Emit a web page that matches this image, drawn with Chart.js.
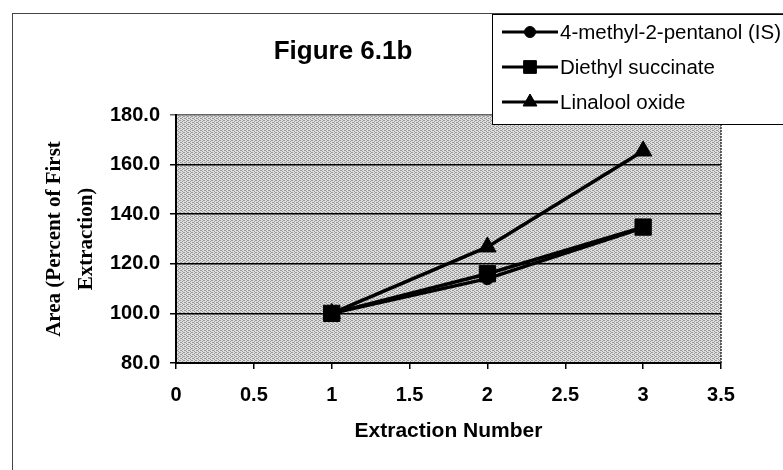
<!DOCTYPE html>
<html>
<head>
<meta charset="utf-8">
<title>Figure 6.1b</title>
<script src="https://cdn.jsdelivr.net/npm/chart.js@4.4.1/dist/chart.umd.min.js"></script>
<style>
  html, body { margin: 0; padding: 0; background: #fff; }
  canvas { display: block; }
</style>
</head>
<body>
<canvas id="extractionChart" width="783" height="470"></canvas>
<script>
// extraction number on x, peak area as % of the first extraction on y
const extractionNumbers = [1, 2, 3];
const methylPentanol = [100.0, 114.0, 134.5];
const diethylSuccinate = [100.0, 116.0, 134.8];
const linaloolOxide = [100.0, 126.8, 165.5];
const seriesNames = ['4-methyl-2-pentanol (IS)', 'Diethyl succinate', 'Linalool oxide'];
const yTickRange = [80, 180, 20];
const xTickRange = [0, 3.5, 0.5];

const toPoints = ys => extractionNumbers.map((x, i) => ({ x: x, y: ys[i] }));

// small dithered tile so the plot area looks like the printed grey fill
function halftoneTile() {
  const c = document.createElement('canvas');
  c.width = 4; c.height = 4;
  const g = c.getContext('2d');
  g.fillStyle = '#dedede';
  g.fillRect(0, 0, 4, 4);
  g.fillStyle = '#999';
  [[0, 0], [2, 1], [0, 2], [2, 3], [3, 0], [1, 2]].forEach(([x, y]) => g.fillRect(x, y, 1, 1));
  return c;
}

const legendMarks = { circle: 5.5, rect: 9, triangle: 8 };

const sheetDecor = {
  id: 'sheetDecor',
  beforeDraw(chart) {
    const { ctx, chartArea: a } = chart;
    ctx.save();
    ctx.fillStyle = '#fff';
    ctx.fillRect(0, 0, chart.width, chart.height);
    ctx.strokeStyle = '#444';
    ctx.lineWidth = 1;
    ctx.strokeRect(12.5, 13.5, chart.width, chart.height);
    ctx.fillStyle = ctx.createPattern(halftoneTile(), 'repeat');
    ctx.fillRect(a.left, a.top, a.right - a.left, a.bottom - a.top);
    // dotted right edge of the plot area
    ctx.strokeStyle = '#333';
    ctx.lineWidth = 1.5;
    ctx.setLineDash([2, 1]);
    ctx.beginPath();
    ctx.moveTo(a.right, a.top);
    ctx.lineTo(a.right, a.bottom);
    ctx.stroke();
    ctx.restore();
  },
  afterDraw(chart) {
    const ctx = chart.ctx;
    ctx.save();
    ctx.fillStyle = '#000';
    ctx.font = 'bold 26px "Liberation Sans"';
    ctx.textAlign = 'center';
    ctx.textBaseline = 'middle';
    ctx.fillText('Figure 6.1b', 343, 52);

    // legend box, runs off the right edge
    ctx.fillStyle = '#fff';
    ctx.fillRect(492.5, 14.5, 320, 110);
    ctx.strokeStyle = '#000';
    ctx.lineWidth = 1;
    ctx.strokeRect(492.5, 14.5, 320, 110);
    ctx.font = '20.5px "Liberation Sans"';
    ctx.textAlign = 'left';
    chart.data.datasets.forEach((ds, i) => {
      const y = 32 + i * 35;
      ctx.strokeStyle = '#000';
      ctx.lineWidth = 3;
      ctx.beginPath();
      ctx.moveTo(502, y);
      ctx.lineTo(558, y);
      ctx.stroke();
      ctx.fillStyle = '#000';
      ctx.lineWidth = 1;
      Chart.helpers.drawPoint(ctx, {
        pointStyle: ds.pointStyle,
        radius: legendMarks[ds.pointStyle],
        rotation: 0,
        borderWidth: 1
      }, 530, y);
      ctx.fillText(ds.label, 560, y + 1);
    });
    ctx.restore();
  }
};

const lineStyle = {
  borderColor: '#000',
  backgroundColor: '#000',
  pointBackgroundColor: '#000',
  pointBorderColor: '#000',
  pointBorderWidth: 1,
  borderWidth: 3.5,
  tension: 0
};

const tickFont = { family: 'Liberation Sans', weight: 'bold', size: 20 };

new Chart(document.getElementById('extractionChart'), {
  type: 'line',
  data: {
    datasets: [
      Object.assign({ label: seriesNames[0], data: toPoints(methylPentanol), pointStyle: 'circle', pointRadius: 6, order: 1 }, lineStyle),
      Object.assign({ label: seriesNames[1], data: toPoints(diethylSuccinate), pointStyle: 'rect', pointRadius: 11.5, order: 0 }, lineStyle),
      Object.assign({ label: seriesNames[2], data: toPoints(linaloolOxide), pointStyle: 'triangle', pointRadius: 10, order: 2 }, lineStyle)
    ]
  },
  options: {
    responsive: false,
    animation: false,
    events: [],
    layout: { padding: { top: 115, right: 62, bottom: 0, left: 0 } },
    plugins: {
      legend: { display: false },
      tooltip: { enabled: false }
    },
    scales: {
      x: {
        type: 'linear',
        min: xTickRange[0],
        max: xTickRange[1],
        ticks: {
          stepSize: xTickRange[2],
          color: '#000',
          font: tickFont,
          padding: 14,
          maxRotation: 0,
          autoSkip: false,
          callback: v => String(v)
        },
        grid: { drawOnChartArea: false, tickLength: 6, color: '#000', lineWidth: 1.5 },
        border: { color: '#000', width: 2 },
        title: {
          display: true,
          text: 'Extraction Number',
          color: '#000',
          font: { family: 'Liberation Sans', weight: 'bold', size: 21 },
          padding: { top: 0, bottom: 26 }
        },
        afterFit(scale) { scale.height = 107; }
      },
      y: {
        min: yTickRange[0],
        max: yTickRange[1],
        ticks: { stepSize: yTickRange[2], color: '#000', font: tickFont, padding: 10, callback: v => v.toFixed(1) },
        grid: {
          color: c => (c.tick && c.tick.value === yTickRange[1] ? '#666' : '#000'),
          lineWidth: 1.5,
          tickLength: 6
        },
        border: { color: '#000', width: 2 },
        title: {
          display: true,
          text: ['Area (Percent of First', 'Extraction)'],
          color: '#000',
          font: { family: 'Liberation Serif', weight: 'bold', size: 21, lineHeight: '32px' },
          padding: { top: 39, bottom: 0 }
        },
        afterFit(scale) { scale.width = 176; }
      }
    }
  },
  plugins: [sheetDecor]
});
</script>
</body>
</html>
